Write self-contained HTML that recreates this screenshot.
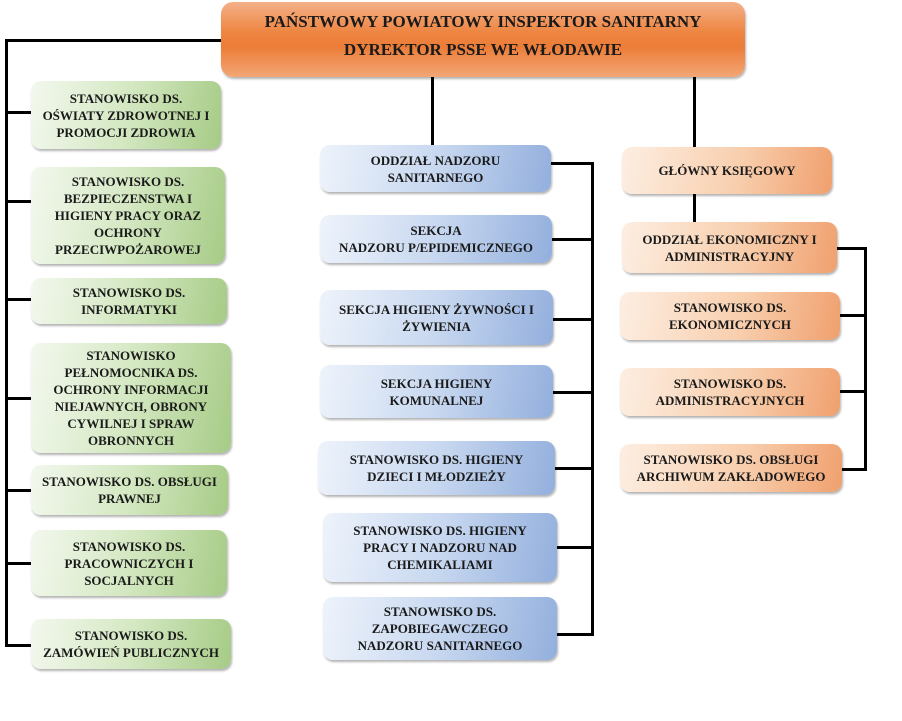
<!DOCTYPE html>
<html><head><meta charset="utf-8"><style>
body{margin:0;width:902px;height:721px;background:#fff;position:relative;overflow:hidden;font-family:"Liberation Serif",serif;}
.b{position:absolute;display:flex;align-items:center;justify-content:center;text-align:center;font-weight:bold;font-size:13px;line-height:17px;color:#1a1a1a;border-radius:10px;box-shadow:1px 2px 2px rgba(0,0,0,.3);box-sizing:border-box;padding:0 4px;}
.g{background:linear-gradient(100deg,#f3f8ee 0%,#d4e8c2 50%,#a6cb86 100%);}
.u{background:linear-gradient(100deg,#eef3fb 0%,#c8d8f0 50%,#93afdd 100%);}
.o{background:linear-gradient(100deg,#fdeee2 0%,#f8cfae 55%,#f0a06e 100%);}
.l{position:absolute;background:#000;}
</style></head><body>
<div class="b" style="left:221px;top:2px;width:524px;height:75px;border-radius:12px;background:linear-gradient(180deg,#f4b088 0%,#ee8642 40%,#ec7d38 60%,#f2a676 100%);font-size:17px;line-height:28px;padding-bottom:8px;">PAŃSTWOWY POWIATOWY INSPEKTOR SANITARNY<br>DYREKTOR PSSE WE WŁODAWIE</div>

<div class="l" style="left:5px;top:39px;width:216px;height:3px"></div>
<div class="l" style="left:5px;top:39px;width:3px;height:608px"></div>
<div class="l" style="left:5px;top:111px;width:26px;height:3px"></div>
<div class="l" style="left:5px;top:200px;width:26px;height:3px"></div>
<div class="l" style="left:5px;top:298px;width:26px;height:3px"></div>
<div class="l" style="left:5px;top:397px;width:26px;height:3px"></div>
<div class="l" style="left:5px;top:489px;width:26px;height:3px"></div>
<div class="l" style="left:5px;top:562px;width:26px;height:3px"></div>
<div class="l" style="left:5px;top:644px;width:26px;height:3px"></div>

<div class="b g" style="left:31px;top:81px;width:190px;height:68px">STANOWISKO DS.<br>OŚWIATY ZDROWOTNEJ I<br>PROMOCJI ZDROWIA</div>
<div class="b g" style="left:31px;top:167px;width:194px;height:97px">STANOWISKO DS.<br>BEZPIECZENSTWA I<br>HIGIENY PRACY ORAZ<br>OCHRONY<br>PRZECIWPOŻAROWEJ</div>
<div class="b g" style="left:31px;top:278px;width:196px;height:46px">STANOWISKO DS.<br>INFORMATYKI</div>
<div class="b g" style="left:31px;top:343px;width:200px;height:110px">STANOWISKO<br>PEŁNOMOCNIKA DS.<br>OCHRONY INFORMACJI<br>NIEJAWNYCH, OBRONY<br>CYWILNEJ I SPRAW<br>OBRONNYCH</div>
<div class="b g" style="left:31px;top:465px;width:197px;height:50px">STANOWISKO DS. OBSŁUGI<br>PRAWNEJ</div>
<div class="b g" style="left:31px;top:530px;width:196px;height:66px">STANOWISKO DS.<br>PRACOWNICZYCH I<br>SOCJALNYCH</div>
<div class="b g" style="left:31px;top:619px;width:200px;height:50px">STANOWISKO DS.<br>ZAMÓWIEŃ PUBLICZNYCH</div>

<div class="l" style="left:431px;top:77px;width:3px;height:68px"></div>
<div class="l" style="left:591px;top:162px;width:3px;height:474px"></div>
<div class="l" style="left:551px;top:162px;width:43px;height:3px"></div>
<div class="l" style="left:552px;top:238px;width:42px;height:3px"></div>
<div class="l" style="left:553px;top:318px;width:41px;height:3px"></div>
<div class="l" style="left:553px;top:391px;width:41px;height:3px"></div>
<div class="l" style="left:555px;top:467px;width:39px;height:3px"></div>
<div class="l" style="left:557px;top:546px;width:37px;height:3px"></div>
<div class="l" style="left:557px;top:633px;width:37px;height:3px"></div>

<div class="b u" style="left:320px;top:145px;width:231px;height:47px">ODDZIAŁ NADZORU<br>SANITARNEGO</div>
<div class="b u" style="left:320px;top:215px;width:232px;height:48px">SEKCJA<br>NADZORU P/EPIDEMICZNEGO</div>
<div class="b u" style="left:320px;top:290px;width:233px;height:55px">SEKCJA HIGIENY ŻYWNOŚCI I<br>ŻYWIENIA</div>
<div class="b u" style="left:320px;top:365px;width:233px;height:53px">SEKCJA HIGIENY<br>KOMUNALNEJ</div>
<div class="b u" style="left:318px;top:441px;width:237px;height:54px">STANOWISKO DS. HIGIENY<br>DZIECI I MŁODZIEŻY</div>
<div class="b u" style="left:323px;top:513px;width:234px;height:69px">STANOWISKO DS. HIGIENY<br>PRACY I NADZORU NAD<br>CHEMIKALIAMI</div>
<div class="b u" style="left:323px;top:597px;width:234px;height:63px">STANOWISKO DS.<br>ZAPOBIEGAWCZEGO<br>NADZORU SANITARNEGO</div>

<div class="l" style="left:693px;top:77px;width:3px;height:70px"></div>
<div class="l" style="left:693px;top:194px;width:3px;height:28px"></div>
<div class="l" style="left:837px;top:247px;width:30px;height:3px"></div>
<div class="l" style="left:864px;top:247px;width:3px;height:224px"></div>
<div class="l" style="left:840px;top:314px;width:27px;height:3px"></div>
<div class="l" style="left:840px;top:390px;width:27px;height:3px"></div>
<div class="l" style="left:842px;top:468px;width:25px;height:3px"></div>

<div class="b o" style="left:622px;top:147px;width:210px;height:47px">GŁÓWNY KSIĘGOWY</div>
<div class="b o" style="left:622px;top:222px;width:215px;height:51px">ODDZIAŁ EKONOMICZNY I<br>ADMINISTRACYJNY</div>
<div class="b o" style="left:620px;top:292px;width:220px;height:48px">STANOWISKO DS.<br>EKONOMICZNYCH</div>
<div class="b o" style="left:620px;top:368px;width:220px;height:48px">STANOWISKO DS.<br>ADMINISTRACYJNYCH</div>
<div class="b o" style="left:620px;top:444px;width:222px;height:48px">STANOWISKO DS. OBSŁUGI<br>ARCHIWUM ZAKŁADOWEGO</div>
</body></html>
